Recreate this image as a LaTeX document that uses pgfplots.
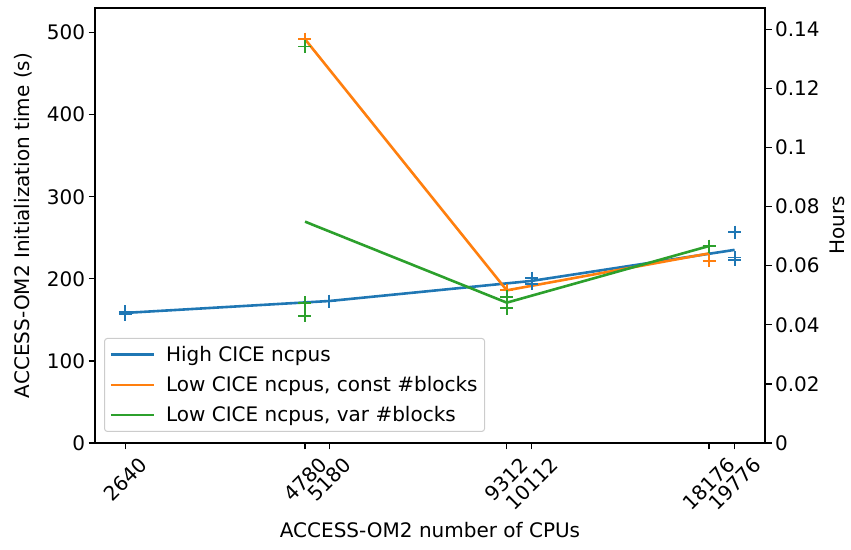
\documentclass[border=0pt]{standalone}
\usepackage{graphicx}
\usepackage{fontspec}
\setmainfont{DejaVu Sans}
\usepackage{pgfplots}
\pgfplotsset{compat=1.18}

\definecolor{tabblue}{HTML}{1F77B4}
\definecolor{taborange}{HTML}{FF7F0E}
\definecolor{tabgreen}{HTML}{2CA02C}

\pgfplotsset{
  common/.style={
    scale only axis, width=670pt, height=435pt,
    ymin=0, ymax=530,
    font=\fontsize{20}{24}\selectfont,
    /pgf/number format/assume math mode=true,
    tick align=outside, major tick length=6.5pt,
    every tick/.style={black, line width=1.2pt},
    axis line style={line width=1.2pt},
    tick label style={font=\fontsize{20}{24}\selectfont},
  },
  lineplot/.style={line width=2.6pt, no markers},
  markplot/.style={only marks, mark=+, mark size=6.5pt, mark options={line width=1.8pt}, forget plot},
}
\newcommand{\entrygap}{\hspace*{9pt}}

\begin{document}
\begin{tikzpicture}
\begin{axis}[
  common, name=ax,
  xmode=log, xmin=2388, xmax=21866,
  xtick pos=left, ytick pos=left,
  xtick={2640,4780,5180,9312,10112,18176,19776},
  xticklabels={\rotatebox{45}{2640},\rotatebox{45}{4780},\rotatebox{45}{5180},\rotatebox{45}{9312},\rotatebox{45}{10112},\rotatebox{45}{18176},\rotatebox{45}{19776}},
  minor xtick={},
  xticklabel style={anchor=north, inner sep=0pt, yshift=-6pt},
  ytick={0,100,200,300,400,500},
  yticklabels={0,100,200,300,400,500},
  xlabel={ACCESS-OM2 number of CPUs},
  xlabel style={yshift=-7pt},
  ylabel={ACCESS-OM2 Initialization time (s)},
  ylabel style={yshift=8pt},
  legend style={at={(0.0134,0.0253)}, anchor=south west, draw=black!20, line width=1pt,
    rounded corners=3pt, fill=white, fill opacity=0.8, text opacity=1,
    font=\fontsize{20}{24}\selectfont, row sep=9.5pt, inner xsep=5pt, inner ysep=6pt},
  legend cell align=left,
  legend image code/.code={\draw[#1, line width=2.6pt] (0pt,0pt) -- (43pt,0pt);},
]
% mean values joined by lines
\addplot[lineplot, tabblue] coordinates {(2640,158.5) (5180,173) (10112,197.5) (19776,235.3)};
\addlegendentry{\entrygap High CICE ncpus}
\addplot[lineplot, taborange] coordinates {(4780,492) (9312,186) (18176,231)};
\addlegendentry{\entrygap Low CICE ncpus, const \#blocks}
\addplot[lineplot, tabgreen] coordinates {(4780,269.7) (9312,171) (18176,240)};
\addlegendentry{\entrygap Low CICE ncpus, var \#blocks}
% individual runs
\addplot[markplot, tabblue] coordinates {(2640,157) (2640,160) (5180,173) (10112,201) (10112,194) (19776,257) (19776,226) (19776,223)};
\addplot[markplot, taborange] coordinates {(4780,492) (9312,186) (18176,222) (18176,240)};
\addplot[markplot, tabgreen] coordinates {(4780,483) (4780,171) (4780,155) (9312,178) (9312,164) (18176,240)};
\end{axis}
% same range expressed in hours
\begin{axis}[
  common, ymax=0.147222,
  xmin=0, xmax=1,
  axis x line=none, axis y line*=right,
  ytick={0,0.02,0.04,0.06,0.08,0.1,0.12,0.14},
  yticklabels={0,0.02,0.04,0.06,0.08,0.1,0.12,0.14},
  ylabel={Hours}, ylabel near ticks,
  ylabel style={yshift=-3pt},
]
\end{axis}
\pgfresetboundingbox
\path[use as bounding box] ([shift={(-95pt,-107pt)}]ax.south west) rectangle ([shift={(86pt,8pt)}]ax.north east);
\end{tikzpicture}
\end{document}
